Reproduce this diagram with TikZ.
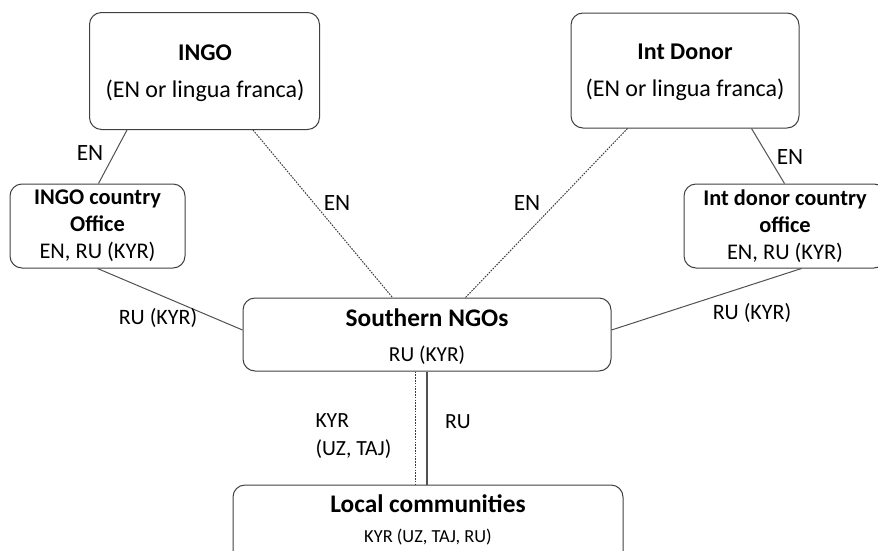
\documentclass[tikz,border=0pt]{standalone}
\usepackage{fontspec}
\setmainfont{Carlito}
\usetikzlibrary{calc}

\tikzset{every picture/.style={line width=0.75pt}}
\tikzset{
  orgbox/.style={draw={rgb,255:red,64;green,64;blue,64}, rounded corners=9pt, inner sep=0pt, align=center, font=\fontsize{16.8}{20.25}\selectfont},
  title/.style={font=\fontsize{18}{21}\selectfont\bfseries, inner sep=0pt},
  lang/.style={font=\fontsize{16.5}{21}\selectfont, inner sep=0pt, align=left},
  link/.style={draw={rgb,255:red,80;green,80;blue,80}},
  dotlink/.style={draw={rgb,255:red,60;green,60;blue,60}, dash pattern=on 1.2pt off 0.9pt}
}

\begin{document}
\begin{tikzpicture}[x=0.75pt,y=0.75pt,yscale=-1,xscale=1]
\clip (0,0) rectangle (878,550);

% Boxes
\node [orgbox, minimum width=172.5pt, minimum height=87.75pt] (ingo) at (204.5,71) {};
\node [orgbox, minimum width=171pt, minimum height=86.25pt] (donor) at (685,70.5) {};
\node [orgbox, minimum width=131.25pt, minimum height=63pt] (ingooff) at (97.5,226) {\textbf{INGO country}\\\textbf{Office}\\EN, RU (KYR)};
\node [orgbox, minimum width=151.5pt, minimum height=63pt] (donoroff) at (785,226) {\textbf{Int donor country}\\\textbf{office}\\EN, RU (KYR)};
\node [orgbox, minimum width=276pt, minimum height=54.75pt] (south) at (427,334.5) {};
\node [orgbox, minimum width=292.5pt, minimum height=60pt] (local) at (428,525) {};

% Box texts
\node [title] (ingot) at (205,53) {INGO};
\node [lang, font=\fontsize{18}{21}\selectfont] (ingol) at (205,91) {(EN or lingua franca)};
\node [title] (donort) at (685,52) {Int Donor};
\node [lang, font=\fontsize{18}{21}\selectfont] (donorl) at (685,90) {(EN or lingua franca)};
\node [title, font=\fontsize{19}{21}\selectfont\bfseries] (southt) at (427,318) {Southern NGOs};
\node [lang, font=\fontsize{16}{21}\selectfont] (southl) at (427,355) {RU (KYR)};
\node [title, font=\fontsize{19}{21}\selectfont\bfseries] (localt) at (428,504) {Local communities};
\node [lang, font=\fontsize{13.8}{18}\selectfont] (locall) at (428,537) {KYR (UZ, TAJ, RU)};

% Connectors
\draw [link] ($(ingo.south west)+(38,0)$) -- ($(ingooff.north west)+(89,0)$);
\draw [dotlink] ($(ingo.south west)+(164,0)$) -- ($(south.north west)+(150,0)$);
\draw [dotlink] ($(donor.south west)+(57,0)$) -- ($(south.north west)+(223,0)$);
\draw [link] ($(donor.south west)+(181,0)$) -- ($(donoroff.north west)+(101,0)$);
\draw [link] ($(ingooff.south west)+(88,0)$) -- ($(south.west)+(0,-4.5)$);
\draw [link] ($(donoroff.south west)+(118,0)$) -- ($(south.east)+(0,-4.5)$);
\draw [dotlink] ([xshift=-9pt]south.south) -- ([xshift=-9pt]south.south |- local.north);
\draw [link, line width=1pt] (south.south) -- (south.south |- local.north);

% Connector labels
\node [lang, font=\fontsize{17.5}{21}\selectfont] (en1) at (90,153) {EN};
\node [lang, font=\fontsize{17.5}{21}\selectfont] (en2) at (337,203) {EN};
\node [lang, font=\fontsize{17.5}{21}\selectfont] (en3) at (527,203) {EN};
\node [lang, font=\fontsize{17.5}{21}\selectfont] (en4) at (790,157) {EN};
\node [lang] (ru1) at (158,318) {RU (KYR)};
\node [lang] (ru2) at (752,313) {RU (KYR)};
\node [lang, anchor=west, font=\fontsize{16.2}{21}\selectfont] (kyr) at (315,436) {KYR\\(UZ, TAJ)};
\node [lang, font=\fontsize{16.2}{21}\selectfont] (ru3) at (458,422) {RU};

\end{tikzpicture}
\end{document}
